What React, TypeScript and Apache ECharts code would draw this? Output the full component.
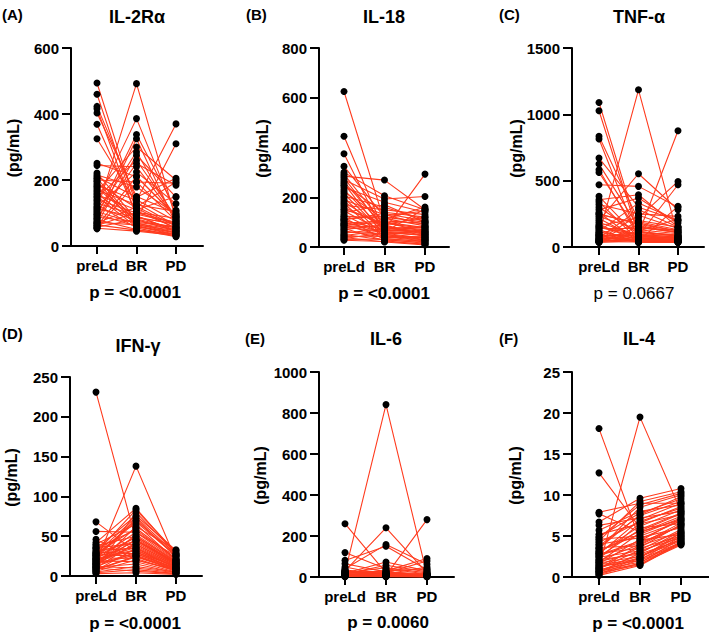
import React, { useEffect, useRef } from 'react';
import * as echarts from 'echarts';

const categories = ['preLd', 'BR', 'PD'];

// (A) IL-2Rα
const il2raPre = [494,460,423,416,403,369,325,251,244,221,215,210,205,200,196,190,185,180,176,170,165,160,155,150,146,140,136,130,126,120,116,112,108,104,100,96,92,88,84,80,76,72,68,64,60,57,54,52,70,62];
const il2raBR = [120,105,140,90,150,96,130,210,240,80,179,148,70,194,62,115,138,85,75,125,300,66,110,58,260,100,386,92,55,224,78,88,492,68,285,60,338,72,250,50,325,64,275,48,211,82,45,194,118,102];
const il2raPD = [60,55,75,48,100,70,62,90,85,45,96,205,40,190,35,52,370,68,58,105,200,38,150,42,88,72,95,44,30,128,310,65,80,50,78,33,108,56,184,28,66,46,148,36,90,54,32,76,194,84];

// (B) IL-18
const il18Pre = [625,445,375,324,300,292,285,278,270,262,255,248,240,230,222,214,205,198,190,182,175,168,160,152,145,138,130,124,118,112,106,100,95,90,85,80,75,70,65,60,55,50,46,42,38,34,30,27,110,88];
const il18BR = [100,60,50,120,206,90,269,70,193,80,45,140,180,65,110,55,160,40,130,75,35,150,85,95,60,170,48,115,30,125,70,58,105,42,80,62,25,90,38,52,74,28,66,44,20,56,32,22,135,100];
const il18PD = [60,45,70,100,150,40,150,293,203,55,30,120,140,80,161,35,110,25,90,65,20,130,50,75,154,100,38,85,15,145,60,48,95,28,70,55,10,120,42,30,82,18,62,36,8,50,24,12,105,78];

// (C) TNF-α
const tnfPre = [1089,1027,834,814,670,625,582,562,469,382,356,340,320,300,280,260,245,230,215,200,185,170,160,150,140,130,120,112,105,98,92,86,80,75,70,65,60,56,52,48,45,42,40,38,36,35,55,90,150,250];
const tnfBR = [120,90,200,60,300,150,80,110,457,70,394,50,250,100,369,40,180,130,60,552,90,45,220,75,140,35,331,65,160,50,1185,85,40,110,280,55,70,190,45,100,60,150,38,80,120,50,240,35,95,170];
const tnfPD = [80,60,150,45,200,110,70,90,300,50,150,40,231,876,180,35,120,100,60,281,75,40,494,65,130,35,200,55,110,45,80,469,40,90,150,50,60,130,306,85,55,110,38,70,210,45,140,35,75,120];

// (D) IFN-γ
const ifngPre = [231,68,56,46,42,40,38,36,34,32,30,29,28,27,26,25,24,23,22,21,20,19,18,17,16,15,14,13,12,11,10,9,8,7,6,5,4,3,35,30,25,20,15,12,18,22,28,10,8,14];
const ifngBR = [45,30,55,20,85,65,50,40,76,35,28,83,60,25,70,48,38,22,72,55,32,18,45,138,28,40,62,52,30,15,42,80,25,35,20,12,8,4,58,44,68,36,26,10,50,33,74,6,24,46];
const ifngPD = [15,12,25,8,28,20,18,14,32,10,9,30,22,7,26,16,13,6,24,20,11,5,17,20,10,14,33,19,9,4,15,28,8,12,7,5,3,2,21,16,25,13,9,4,18,11,27,3,8,17];

// (E) IL-6
const il6Pre = [260,119,81,65,49,40,35,30,28,25,22,20,18,16,15,14,12,11,10,9,8,7,6,5,4,3,2,1,20,30,15,10,8,5,12,25,18,6,3,9];
const il6BR = [20,40,150,25,10,158,8,240,15,12,841,30,73,6,20,57,10,5,8,4,15,12,3,2,6,8,1,10,45,18,14,9,5,25,12,8,30,4,7,3];
const il6PD = [10,15,35,8,5,62,280,20,12,8,10,90,30,4,78,25,6,3,5,2,49,7,2,1,4,6,1,5,20,12,10,6,3,15,8,5,40,2,4,2];

// (F) IL-4
const il4Pre = [18.1,12.7,7.9,7.7,6.7,6.3,5.7,5.2,4.9,4.6,4.4,4.2,4.0,3.8,3.6,3.4,3.2,3.0,2.9,2.8,2.6,2.5,2.4,2.2,2.1,2.0,1.9,1.8,1.7,1.6,1.5,1.4,1.3,1.2,1.1,1.0,0.9,0.8,0.7,0.6,0.5,0.4,0.3,0.2,3.5,2.7,1.0,4.8,0.6,3.1];
const il4BR = [4.5,6.0,9.0,5.5,9.6,7.2,8.0,6.5,7.8,5.0,9.2,6.8,4.8,7.5,3.8,8.5,5.2,6.2,3.5,7.0,4.2,5.8,3.2,6.6,2.8,4.0,3.0,5.4,2.5,4.6,2.2,3.6,2.0,19.5,2.6,3.3,1.8,2.4,1.6,2.9,1.5,2.1,1.7,1.4,7.6,4.4,3.9,8.8,2.3,5.6];
const il4PD = [5.2,6.5,9.0,7.0,10.8,8.0,8.8,7.6,9.5,6.8,10.4,8.4,6.0,9.2,5.5,10.0,7.2,8.2,5.0,9.0,6.2,7.8,4.8,8.6,4.5,6.6,5.3,7.4,4.4,6.9,4.2,6.4,4.1,8.0,4.6,5.8,4.0,5.1,3.9,5.6,4.3,4.9,4.7,4.1,9.8,7.1,6.3,10.2,5.4,7.7];

const panelLetters = ['(A)', '(B)', '(C)', '(D)', '(E)', '(F)'];
const panelTitles = ['IL-2Rα', 'IL-18', 'TNF-α', 'IFN-γ', 'IL-6', 'IL-4'];
const pLabels = ['p = <0.0001', 'p = <0.0001', 'p = 0.0667', 'p = <0.0001', 'p = 0.0060', 'p = <0.0001'];
const pBold = [true, true, false, true, true, true];
const yMax = [600, 800, 1500, 250, 1000, 25];
const yInterval = [200, 200, 500, 50, 200, 5];
const yName = '(pg/mL)';
const seriesData = [
  [il2raPre, il2raBR, il2raPD],
  [il18Pre, il18BR, il18PD],
  [tnfPre, tnfBR, tnfPD],
  [ifngPre, ifngBR, ifngPD],
  [il6Pre, il6BR, il6PD],
  [il4Pre, il4BR, il4PD],
];

// layout (pixels)
const layouts = [
  { x0: 71, x1: 203, top: 48, zero: 246, c0: 97, c2: 176, nameX: 13, letterX: 2, letterY: 14, titleX: 137, titleY: 17, pX: 135, pY: 292 },
  { x0: 319, x1: 449, top: 48, zero: 247, c0: 344, c2: 425, nameX: 262, letterX: 246, letterY: 14, titleX: 384, titleY: 17, pX: 384, pY: 293 },
  { x0: 572, x1: 704, top: 48, zero: 247, c0: 599, c2: 678, nameX: 516, letterX: 499, letterY: 14, titleX: 639, titleY: 17, pX: 634, pY: 293 },
  { x0: 70, x1: 202, top: 377, zero: 576, c0: 96, c2: 176, nameX: 11, letterX: 2, letterY: 333, titleX: 138, titleY: 346, pX: 135, pY: 623 },
  { x0: 319, x1: 454, top: 372, zero: 577, c0: 345, c2: 427, nameX: 260, letterX: 245, letterY: 338, titleX: 386, titleY: 339, pX: 388, pY: 622 },
  { x0: 572, x1: 709, top: 372, zero: 577, c0: 599, c2: 681, nameX: 515, letterX: 499, letterY: 338, titleX: 639, titleY: 339, pX: 638, pY: 623 },
];

const RED = '#ff3b1e';
const FONT = '"Liberation Sans", Arial, Helvetica, sans-serif';

function buildOption() {
  const grid: any[] = [];
  const xAxis: any[] = [];
  const yAxis: any[] = [];
  const series: any[] = [];
  const graphic: any[] = [];

  seriesData.forEach((cols, i) => {
    const L = layouts[i];
    const unit = (L.c2 - L.c0) / 2;
    const xmin = -(L.c0 - L.x0) / unit;
    const xmax = (L.x1 - L.c0) / unit;
    grid.push({ left: L.x0, top: L.top, width: L.x1 - L.x0, height: L.zero - L.top, containLabel: false });
    xAxis.push({
      type: 'value', gridIndex: i, min: xmin, max: xmax,
      axisLine: { show: true, onZero: false, lineStyle: { color: '#000', width: 2 } },
      axisTick: { show: true, length: 8, customValues: [0, 1, 2], lineStyle: { color: '#000', width: 2 } },
      axisLabel: {
        customValues: [0, 1, 2], margin: 12, color: '#000', fontSize: 15, fontWeight: 'bold', fontFamily: FONT,
        formatter: (v: number) => categories[Math.round(v)] ?? '',
      },
      splitLine: { show: false },
    });
    yAxis.push({
      type: 'value', gridIndex: i, min: 0, max: yMax[i], interval: yInterval[i],
      axisLine: { show: true, onZero: false, lineStyle: { color: '#000', width: 2 } },
      axisTick: { show: true, length: 9, lineStyle: { color: '#000', width: 2 } },
      axisLabel: {
        margin: 12, color: '#000', fontSize: 15, fontWeight: 'bold', fontFamily: FONT,
        formatter: (v: number) => String(v),
      },
      splitLine: { show: false },
    });
    const [pre, br, pd] = cols;
    const pts: number[][] = [];
    pre.forEach((v, k) => {
      const row = [v, br[k], pd[k]];
      series.push({
        type: 'line', xAxisIndex: i, yAxisIndex: i, symbol: 'none', silent: true, z: 2,
        lineStyle: { color: RED, width: 1.1 },
        data: row.map((y, j) => [j, y]),
      });
      row.forEach((y, j) => pts.push([j, y]));
    });
    series.push({
      type: 'scatter', xAxisIndex: i, yAxisIndex: i, symbol: 'circle', symbolSize: 7, z: 3,
      itemStyle: { color: '#000', opacity: 1 }, data: pts, silent: true,
    });

    graphic.push({
      type: 'text', x: L.letterX, y: L.letterY,
      style: { text: panelLetters[i], fill: '#000', font: `bold 15px ${FONT}`, align: 'left', verticalAlign: 'middle' },
    });
    graphic.push({
      type: 'text', x: L.titleX, y: L.titleY,
      style: { text: panelTitles[i], fill: '#000', font: `bold 18px ${FONT}`, align: 'center', verticalAlign: 'middle' },
    });
    graphic.push({
      type: 'text', x: L.pX, y: L.pY,
      style: { text: pLabels[i], fill: '#000', font: `${pBold[i] ? 'bold ' : ''}17px ${FONT}`, align: 'center', verticalAlign: 'middle' },
    });
    graphic.push({
      type: 'text', x: L.nameX, y: (L.top + L.zero) / 2 + 1, rotation: Math.PI / 2,
      style: { text: yName, fill: '#000', font: `bold 16px ${FONT}`, align: 'center', verticalAlign: 'middle' },
    });
  });

  return {
    animation: false,
    backgroundColor: '#fff',
    textStyle: { fontFamily: FONT },
    grid, xAxis, yAxis, series, graphic,
  };
}

export default function App() {
  const ref = useRef<HTMLDivElement>(null);
  useEffect(() => {
    if (!ref.current) return;
    const chart = echarts.init(ref.current, null, { renderer: 'svg' });
    chart.setOption(buildOption());
    return () => chart.dispose();
  }, []);
  return <div ref={ref} style={{ position: 'fixed', left: 0, top: 0, width: 709, height: 632, background: '#fff' }} />;
}
